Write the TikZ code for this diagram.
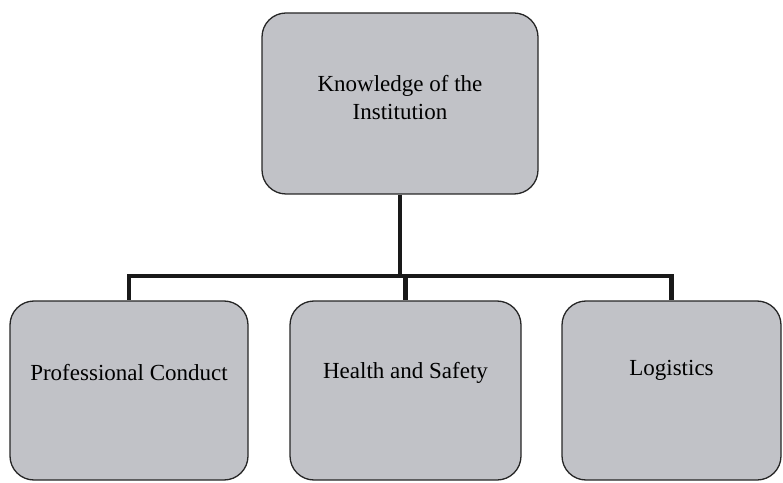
\documentclass[tikz,border=0pt]{standalone}
\usepackage{fontspec}
\setmainfont{Liberation Serif}
\definecolor{boxgray}{RGB}{193,194,199}
\begin{document}
\begin{tikzpicture}[x=1pt,y=1pt,
  box/.style={draw=black!85, line width=1.3pt, fill=boxgray, rounded corners=24pt, minimum height=179pt},
  branch/.style={line width=4.5pt, color=black!90}]
\newcommand{\bary}{206}
\useasboundingbox (0,0) rectangle (783,482);
\fontsize{23}{28}\selectfont

\node [box, minimum width=276pt, minimum height=181pt,
  label={[align=center, yshift=6pt]center:Knowledge of the\\Institution}] (root) at (400,378.5) {};
\node [box, minimum width=238pt, label={[yshift=18pt]center:Professional Conduct}] (conduct) at (129,91.5) {};
\node [box, minimum width=231pt, label={[yshift=18pt]center:Health and Safety}] (safety) at (405.5,91.5) {};
\node [box, minimum width=219pt, label={[yshift=20pt]center:Logistics}] (logistics) at (671.5,91.5) {};

\coordinate (bar) at (0,\bary);

\draw [branch] (root.south) -- (root.south |- bar);
\draw [branch, line cap=rect] (conduct.north |- bar) -- (logistics.north |- bar);
\draw [branch] (conduct.north |- bar) -- (conduct.north);
\draw [branch] (safety.north |- bar) -- (safety.north);
\draw [branch] (logistics.north |- bar) -- (logistics.north);
\end{tikzpicture}
\end{document}
